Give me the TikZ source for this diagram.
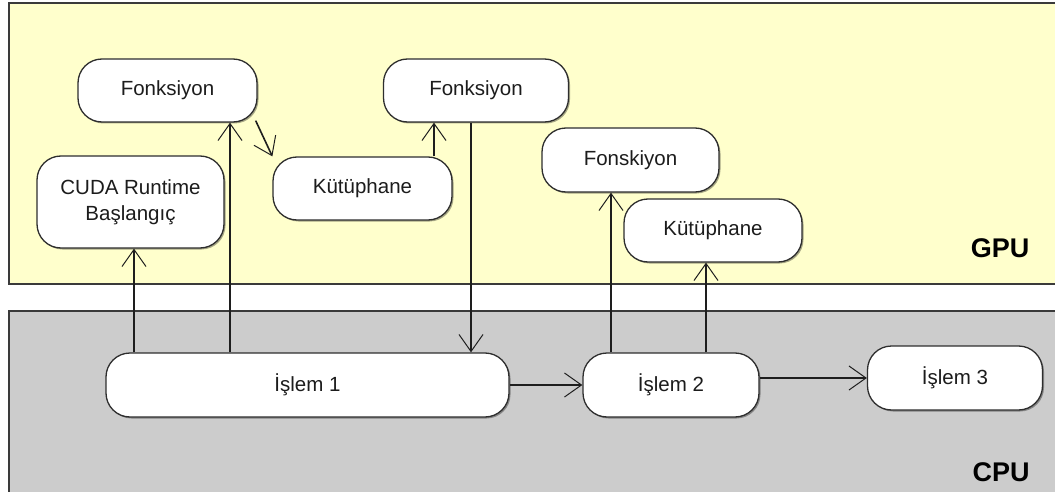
\documentclass[tikz,border=0pt]{standalone}
\usepackage{fontspec}
\setmainfont{Liberation Sans}
\usetikzlibrary{arrows.meta,shadows}
\definecolor{gpufill}{HTML}{FFFFCC}
\definecolor{cpufill}{HTML}{CCCCCC}
\definecolor{panelline}{HTML}{3A3A3A}
\definecolor{nodeline}{HTML}{2E2E2E}
\definecolor{linecol}{HTML}{1E1E1E}
\definecolor{textgray}{HTML}{1C1C1C}
\begin{document}
\begin{tikzpicture}[x=1pt,y=-1pt,
  lane/.style={draw=panelline, line width=2.5pt},
  state/.style={draw=nodeline, line width=1.3pt, fill=white, rounded corners=24pt,
    inner sep=0pt, text=textgray, font=\fontsize{20.5}{26}\selectfont, align=center,
    drop shadow={shadow xshift=1.5pt, shadow yshift=-1.5pt, opacity=0.35, fill=black}},
  flow/.style={draw=linecol, line width=1.6pt,
    -{Straight Barb[length=17pt,width=24pt,line width=1pt]}},
  lanelabel/.style={font=\fontsize{27}{30}\selectfont\bfseries, text=black}
]
\useasboundingbox (0,0) rectangle (1055,492);
\clip (0,0) rectangle (1055,492);

% swim lanes
\path[lane, fill=gpufill] (9,3) rectangle (1075,284);
\path[lane, fill=cpufill] (9,311) rectangle (1075,505);
\node[lanelabel] (gpu) at (1000,248) {GPU};
\node[lanelabel] (cpu) at (1001,472) {CPU};

% GPU side
\node[state, minimum width=179pt, minimum height=63pt] (f1)   at (167.5,90.5) {Fonksiyon};
\node[state, minimum width=187pt, minimum height=92pt] (cuda) at (130.5,202)  {CUDA Runtime\\Başlangıç};
\node[state, minimum width=179pt, minimum height=63pt] (k1)   at (362.5,188.5) {Kütüphane};
\node[state, minimum width=185pt, minimum height=63pt] (f2)   at (476,90.5)   {Fonksiyon};
\node[state, minimum width=177pt, minimum height=64pt] (fs)   at (630.5,160)  {Fonskiyon};
\node[state, minimum width=178pt, minimum height=63pt] (k2)   at (713,230.5)  {Kütüphane};

% CPU side
\node[state, minimum width=403pt, minimum height=64pt] (i1) at (307.5,385) {İşlem 1};
\node[state, minimum width=176pt, minimum height=64pt] (i2) at (671,385)   {İşlem 2};
\node[state, minimum width=175pt, minimum height=64pt] (i3) at (955,378)   {İşlem 3};

% vertical call lines
\coordinate (c1) at (134,0);
\coordinate (c2) at (230,0);
\coordinate (c3) at (434,0);
\coordinate (c4) at (471,0);
\coordinate (c5) at (611,0);
\coordinate (c6) at (706,0);

\draw[flow] (i1.north -| c1) -- (cuda.south -| c1);
\draw[flow] (i1.north -| c2) -- (f1.south -| c2);
\draw[flow] ([xshift=-2pt,yshift=2pt]f1.south east) -- (k1.north west);
\draw[flow] (k1.north -| c3) -- (f2.south -| c3);
\draw[flow] (f2.south -| c4) -- (i1.north -| c4);
\draw[flow] (i2.north -| c5) -- (fs.south -| c5);
\draw[flow] (i2.north -| c6) -- (k2.south -| c6);

% process chain
\draw[flow] (i1.east) -- (i2.west);
\draw[flow] (i2.east |- i3.west) -- (i3.west);
\end{tikzpicture}
\end{document}
